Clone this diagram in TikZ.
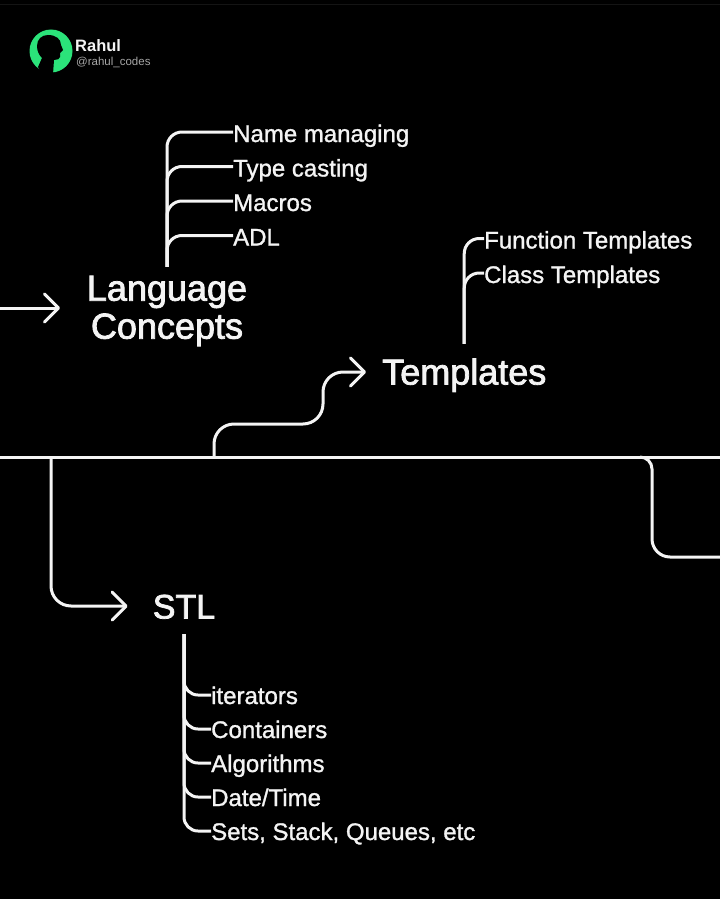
\documentclass[tikz,border=0pt]{standalone}
\usepackage{fontspec}
\setmainfont{Liberation Sans}
\newfontfamily\itemfont[FakeBold=1.2]{Liberation Sans}
\newfontfamily\titlefont[FakeBold=2.2]{Liberation Sans}
\usetikzlibrary{arrows.meta}
\definecolor{ink}{HTML}{F4F4F4}
\definecolor{logogreen}{HTML}{2BE37A}

\begin{document}
\begin{tikzpicture}[
    x=1pt,y=-1pt,
    line/.style={line width=3pt, ink},
    branch/.style={line, rounded corners=15pt},
    stlbranch/.style={line, rounded corners=14pt},
    flow/.style={line, rounded corners=20pt, -{Straight Barb[length=14pt,width=28pt,round]}},
    item/.style={anchor=west, inner sep=0pt, text=ink, text height=20pt, text depth=0pt,
      font=\itemfont\fontsize{24}{26}\selectfont},
    stlitem/.style={item, text height=18pt},
    title/.style={inner xsep=0pt, inner ysep=0pt, text=ink, minimum height=56pt,
      font=\titlefont\fontsize{36}{38}\selectfont}
    ]
    \useasboundingbox (0, 0) rectangle (720, 899);
    \fill[black] (0, 0) rectangle (720, 899);
    \fill[black!92!white] (0, 4) rectangle (720, 5.5);

    \fill[logogreen] (51, 51) circle (21.5);
    \fill[black] (37, 46) .. controls (37, 39) and (42, 35) .. (48, 35)
      .. controls (56, 35) and (61, 39) .. (61, 45) -- (63, 50) -- (60, 53) -- (60, 57)
      .. controls (60, 59) and (57, 60) .. (54, 60) -- (53, 74) -- (42, 74) -- (38, 67)
      -- (42, 58) .. controls (39, 55) and (37, 51) .. (37, 46) -- cycle;
    \node[anchor=west, inner sep=0pt, font=\bfseries\fontsize{16.5}{18}\selectfont, text=ink] (handle) at (75, 46) {Rahul};
    \node[anchor=west, inner sep=0pt, font=\fontsize{11.5}{13}\selectfont, text=black!35!white] (account) at (76, 62.5) {@rahul\_codes};

    \node[title, minimum height=88pt, align=center] (lang) at (167, 311) {Language\\Concepts};
    \node[title, text height=25pt, text depth=0pt, anchor=west] (templates) at (382, 372) {Templates};
    \node[title, text height=25pt, text depth=0pt, font=\titlefont\fontsize{34}{38}\selectfont] (stl) at (184, 606) {STL};

    \node[item] (name) at (233, 132) {Name managing};
    \node[item] (type) at (233, 166.5) {Type casting};
    \node[item] (macros) at (233, 201) {Macros};
    \node[item] (adl) at (233, 235.5) {ADL};

    \node[item] (function) at (484, 238.5) {Function Templates};
    \node[item] (class) at (484, 273) {Class Templates};

    \node[stlitem] (iterators) at (211, 695) {iterators};
    \node[stlitem] (containers) at (211, 729) {Containers};
    \node[stlitem] (algorithms) at (211, 763) {Algorithms};
    \node[stlitem] (date) at (211, 797) {Date/Time};
    \node[stlitem] (sets) at (211, 831) {Sets, Stack, Queues, etc};

    \coordinate (busstart) at (0, 457);
    \coordinate (busend) at (720, 457);
    \coordinate (stlroot) at (51, 457);
    \coordinate (tmplroot) at (214, 457);
    \coordinate (rightroot) at (640, 457);
    \coordinate (rightend) at (720, 557);
    \coordinate (langstart) at (0, 308);
    \coordinate (langtip) at (60, 308);

    \draw[line] (busstart) -- (busend);
    \draw[flow] (langstart) -- (langtip);
    \draw[flow, shorten >=25pt] (stlroot) |- (stl.west);
    \draw[flow, shorten >=16pt] (tmplroot) -- (214, 424) -- (323, 424) -- (323, 372) -- (templates.west);
    \draw[line, rounded corners=12pt] (rightroot) -- (652, 457) [rounded corners=18pt] -- (652, 557) -- (rightend);

    \foreach \leaf in {name, type, macros, adl}
      \draw[branch] (\leaf.west) -| (lang.north);
    \foreach \leaf in {function, class}
      \draw[branch] (\leaf.west) -| (templates.north);
    \foreach \leaf in {iterators, containers, algorithms, date, sets}
      \draw[stlbranch] (stl.south) |- (\leaf.west);
  \end{tikzpicture}
\end{document}
